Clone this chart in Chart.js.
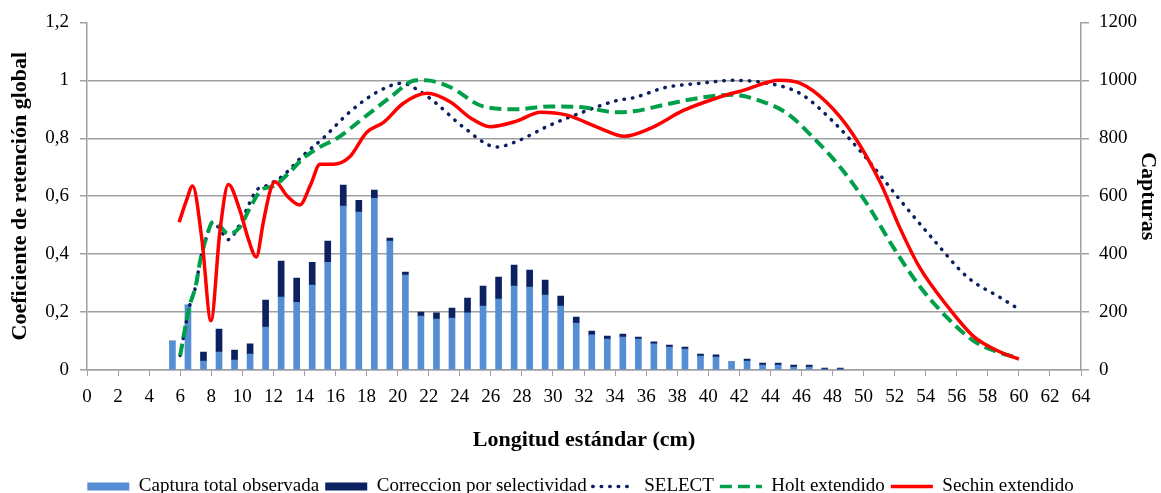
<!DOCTYPE html>
<html>
<head>
<meta charset="utf-8">
<script src="https://cdn.jsdelivr.net/npm/chart.js@4.4.1/dist/chart.umd.min.js"></script>
<style>
  html, body { margin: 0; padding: 0; background: #fff; }
  canvas { display: block; }
</style>
</head>
<body>
<canvas id="myChart" width="1161" height="493"></canvas>
<script>
// length classes (cm) for the catch bars
const barLengths = [5.5, 6.5, 7.5, 8.5, 9.5, 10.5, 11.5, 12.5, 13.5, 14.5, 15.5, 16.5, 17.5, 18.5, 19.5,
  20.5, 21.5, 22.5, 23.5, 24.5, 25.5, 26.5, 27.5, 28.5, 29.5, 30.5, 31.5, 32.5, 33.5, 34.5, 35.5,
  36.5, 37.5, 38.5, 39.5, 40.5, 41.5, 42.5, 43.5, 44.5, 45.5, 46.5, 47.5, 48.5]
const capturaObservada = [100, 224, 31, 62, 34, 55, 148, 252, 234, 293, 372, 566, 545, 593, 445,
  328, 186, 176, 179, 197, 221, 245, 290, 286, 259, 221, 162, 121, 107, 114, 107,
  90, 79, 72, 48, 45, 28, 31, 17, 17, 10, 10, 3, 3]
const correccion = [0, 0, 31, 79, 35, 35, 93, 124, 83, 79, 73, 72, 41, 28, 10,
  10, 14, 21, 35, 51, 69, 76, 72, 59, 51, 34, 21, 13, 10, 10, 7,
  7, 7, 7, 7, 7, 0, 7, 7, 7, 7, 7, 4, 4]

// retention curves
const selectX = [6, 6.3, 6.6, 7.0, 7.3, 7.7, 8.1, 8.5, 9.1, 9.7, 10.5, 10.9, 11.5, 12.6, 13.9, 15.2,
  16.9, 18.7, 20.3, 21.2, 22.5, 24.2, 26.4, 27.7, 29.8, 31.9, 34.1, 35.2, 37.3, 39.5, 41.6, 43.8,
  45.9, 48.0, 50.2, 52.3, 54.5, 56.7, 58.8, 60]
const selectY = [0.05, 0.14, 0.22, 0.29, 0.38, 0.46, 0.51, 0.49, 0.45, 0.49, 0.58, 0.62, 0.635, 0.67, 0.74, 0.80,
  0.89, 0.96, 0.99, 0.97, 0.92, 0.84, 0.77, 0.79, 0.845, 0.89, 0.93, 0.94, 0.976, 0.99, 1.0, 0.99,
  0.955, 0.86, 0.73, 0.59, 0.45, 0.32, 0.25, 0.21]

const holtX = [6, 6.3, 6.6, 7.0, 7.3, 7.7, 8.1, 8.5, 9.1, 9.8, 10.5, 11.2, 12.0, 13.0, 13.9, 15.0,
  16.1, 17.8, 19.5, 21.2, 21.8, 23.4, 25.5, 27.7, 29.8, 31.9, 34.1, 35.2, 37.3, 39.5, 41.6, 43.3,
  45.1, 46.8, 48.5, 50.2, 51.9, 53.6, 55.4, 57.1, 58.5, 60]
const holtY = [0.05, 0.14, 0.22, 0.29, 0.38, 0.46, 0.51, 0.50, 0.47, 0.49, 0.56, 0.62, 0.635, 0.68, 0.73, 0.77,
  0.80, 0.87, 0.94, 1.0, 1.0, 0.976, 0.91, 0.90, 0.91, 0.907, 0.89, 0.893, 0.917, 0.94, 0.95, 0.93,
  0.885, 0.80, 0.70, 0.575, 0.425, 0.29, 0.18, 0.10, 0.065, 0.04]

const sechinX = [5.93, 6.4, 6.8, 7.4, 7.98, 8.56, 9.1, 9.85, 10.4, 10.9, 11.35, 11.8, 12.1, 12.9, 13.7, 14.4,
  15.0, 15.85, 16.9, 18.0, 19.1, 20.35, 21.9, 23.4, 24.7, 25.95, 27.7, 29.2, 30.9, 33.0, 34.6, 36.3,
  38.4, 40.6, 42.3, 44.6, 45.9, 47.6, 49.3, 51.1, 52.3, 53.6, 55.4, 57.1, 58.8, 60]
const sechinY = [0.51, 0.585, 0.635, 0.45, 0.17, 0.48, 0.64, 0.55, 0.45, 0.39, 0.51, 0.62, 0.65, 0.60, 0.57, 0.64,
  0.71, 0.71, 0.735, 0.82, 0.855, 0.92, 0.955, 0.925, 0.87, 0.84, 0.86, 0.89, 0.88, 0.835, 0.807, 0.835,
  0.896, 0.94, 0.966, 1.0, 0.99, 0.925, 0.815, 0.645, 0.495, 0.355, 0.22, 0.115, 0.062, 0.038]

const xTicks = { min: 0, max: 64, step: 2 }

const toPoints = (xs, ys) => xs.map((x, i) => ({ x: x, y: ys[i] }))

const gridGray = '#a0a0a0'
const serif = 'Liberation Serif'

var ctx = document.getElementById('myChart').getContext('2d')

var myChart = new Chart(ctx, {
  type: 'bar',
  data: {
    datasets: [
      {
        type: 'bar',
        label: 'Captura total observada',
        data: toPoints(barLengths, capturaObservada),
        backgroundColor: '#558ed5',
        yAxisID: 'y2',
        stack: 'cap',
        barThickness: 6,
        order: 5,
      },
      {
        type: 'bar',
        label: 'Correccion por selectividad',
        data: toPoints(barLengths, correccion),
        backgroundColor: '#0b2160',
        yAxisID: 'y2',
        stack: 'cap',
        barThickness: 6,
        order: 6,
      },
      {
        type: 'line',
        label: 'SELECT',
        data: toPoints(selectX, selectY),
        borderColor: '#0b1f5e',
        borderWidth: 3.5,
        borderDash: [0.5, 8],
        borderCapStyle: 'round',
        cubicInterpolationMode: 'monotone',
        pointRadius: 0,
        fill: false,
        yAxisID: 'y',
        order: 3,
      },
      {
        type: 'line',
        label: 'Holt extendido',
        data: toPoints(holtX, holtY),
        borderColor: '#00a04a',
        borderWidth: 4,
        borderDash: [12, 6],
        cubicInterpolationMode: 'monotone',
        pointRadius: 0,
        fill: false,
        yAxisID: 'y',
        order: 2,
      },
      {
        type: 'line',
        label: 'Sechin extendido',
        data: toPoints(sechinX, sechinY),
        borderColor: '#ff0000',
        borderWidth: 3.5,
        cubicInterpolationMode: 'monotone',
        pointRadius: 0,
        fill: false,
        yAxisID: 'y',
        order: 1,
      },
    ],
  },
  options: {
    responsive: false,
    animation: false,
    // negative bottom padding pushes the legend to the bottom edge like the original
    layout: { padding: { top: 22, left: 0, right: 0, bottom: -13 } },
    plugins: {
      tooltip: { enabled: false },
      legend: {
        position: 'bottom',
        labels: {
          usePointStyle: true,
          pointStyleWidth: 42,
          boxHeight: 8,
          padding: 6,
          color: '#000',
          font: { family: serif, size: 19 },
          generateLabels: (chart) =>
            chart.data.datasets.map((ds, i) => ({
              text: ds.label,
              datasetIndex: i,
              hidden: false,
              fontColor: '#000',
              pointStyle: ds.type === 'line' ? 'line' : 'rect',
              fillStyle: ds.type === 'line' ? 'rgba(0,0,0,0)' : ds.backgroundColor,
              strokeStyle: ds.type === 'line' ? ds.borderColor : ds.backgroundColor,
              lineWidth: ds.type === 'line' ? 3.5 : 0,
              lineDash: ds.borderDash || [],
              lineCap: ds.borderCapStyle || 'butt',
            })),
        },
      },
    },
    scales: {
      x: {
        type: 'linear',
        min: xTicks.min,
        max: xTicks.max,
        offset: false,
        afterFit: (scale) => { scale.height = 101 },
        grid: {
          offset: false,
          drawOnChartArea: false,
          color: gridGray,
          tickLength: 6,
        },
        border: { display: true, color: gridGray, width: 1.5 },
        ticks: {
          stepSize: xTicks.step,
          autoSkip: false,
          maxRotation: 0,
          padding: 10,
          color: '#000',
          font: { family: serif, size: 19 },
        },
        title: {
          display: true,
          text: 'Longitud estándar (cm)',
          color: '#000',
          font: { family: serif, size: 22, weight: 'bold' },
          padding: { top: 0, bottom: 17 },
        },
      },
      y: {
        position: 'left',
        min: 0,
        max: 1.2,
        afterFit: (scale) => { scale.width = 87 },
        grid: {
          color: (c) => (c.tick && c.tick.value > 1.1 ? 'rgba(0,0,0,0)' : gridGray),
          tickColor: gridGray,
          lineWidth: 1.5,
          tickLength: 7,
        },
        border: { display: true, color: gridGray, width: 1.5 },
        ticks: {
          stepSize: 0.2,
          padding: 11,
          color: '#000',
          font: { family: serif, size: 19 },
          callback: (v) => String(Math.round(v * 10) / 10).replace('.', ','),
        },
        title: {
          display: true,
          text: 'Coeficiente de retención global',
          color: '#000',
          font: { family: serif, size: 22, weight: 'bold' },
          padding: { top: 7, bottom: 0 },
        },
      },
      y2: {
        position: 'right',
        min: 0,
        max: 1200,
        stacked: true,
        afterFit: (scale) => { scale.width = 80 },
        grid: {
          drawOnChartArea: false,
          color: gridGray,
          lineWidth: 1.5,
          tickLength: 8,
        },
        border: { display: true, color: gridGray, width: 1.5 },
        ticks: {
          stepSize: 200,
          padding: 10,
          color: '#000',
          font: { family: serif, size: 19 },
          callback: (v) => String(v),
        },
        title: {
          display: true,
          text: 'Capturas',
          color: '#000',
          font: { family: serif, size: 22, weight: 'bold' },
          padding: { top: 0, bottom: 0 },
        },
      },
    },
  },
})
</script>
</body>
</html>
